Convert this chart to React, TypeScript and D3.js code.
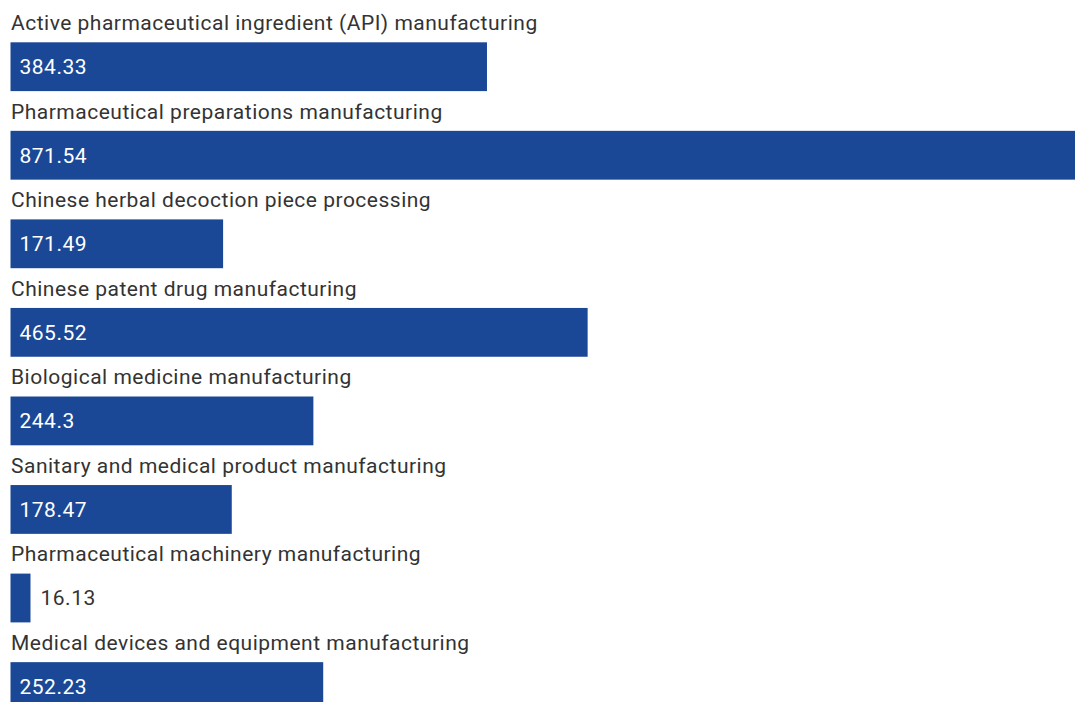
import React from "react";
import * as d3 from "d3";

const categories: string[] = [
  "Active pharmaceutical ingredient (API) manufacturing",
  "Pharmaceutical preparations manufacturing",
  "Chinese herbal decoction piece processing",
  "Chinese patent drug manufacturing",
  "Biological medicine manufacturing",
  "Sanitary and medical product manufacturing",
  "Pharmaceutical machinery manufacturing",
  "Medical devices and equipment manufacturing",
];
const values: number[] = [384.33, 871.54, 171.49, 465.52, 244.3, 178.47, 16.13, 252.23];

const W = 1075;
const H = 702;
const BAR_COLOR = "#1a4896";
const TEXT_COLOR = "#333333";

export default function App() {
  const x = d3.scaleLinear().domain([0, d3.max(values) as number]).range([10.5, 1091]);
  const y = d3
    .scaleBand<number>()
    .domain(d3.range(categories.length))
    .range([0, 88.55 * categories.length])
    .paddingInner(0)
    .paddingOuter(0);
  const barTop = 42.3;
  const barH = 48.8;
  return (
    <svg
      width={W}
      height={H}
      style={{ position: "fixed", left: 0, top: 0, background: "#fff" }}
      fontFamily="Roboto, sans-serif"
    >
      {categories.map((c, i) => {
        const y0 = y(i) as number;
        const x1 = x(values[i]);
        const inside = x1 - x(0) > 80;
        return (
          <g key={c}>
            <text x={11} y={y0 + 30} fontSize={21} letterSpacing={0.5} fill={TEXT_COLOR}>
              {c}
            </text>
            <rect x={x(0)} y={y0 + barTop} width={x1 - x(0)} height={barH} fill={BAR_COLOR} />
            <text
              x={inside ? x(0) + 9 : x1 + 10}
              y={y0 + barTop + barH / 2 + 7.3}
              fontSize={21}
              letterSpacing={0.5}
              fill={inside ? "#ffffff" : TEXT_COLOR}
            >
              {values[i]}
            </text>
          </g>
        );
      })}
    </svg>
  );
}
